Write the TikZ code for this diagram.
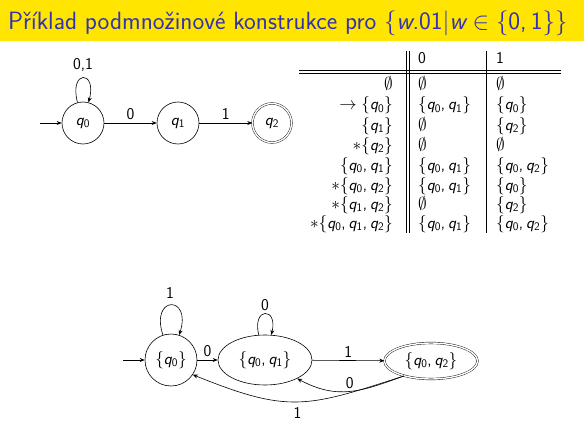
\documentclass[tikz,border=0pt]{standalone}
\usetikzlibrary{arrows.meta,shapes.geometric}
\DeclareSymbolFont{sfop}{TU}{lmss}{m}{n}
\DeclareSymbolFont{sfit}{TU}{lmss}{m}{it}
\DeclareMathSymbol{q}{\mathalpha}{sfit}{`q}
\DeclareMathSymbol{w}{\mathalpha}{sfit}{`w}
\DeclareMathSymbol{0}{\mathalpha}{sfop}{`0}
\DeclareMathSymbol{1}{\mathalpha}{sfop}{`1}
\DeclareMathSymbol{2}{\mathalpha}{sfop}{`2}
\DeclareMathSymbol{.}{\mathord}{sfop}{`.}
\DeclareMathSymbol{,}{\mathpunct}{sfop}{`,}
\definecolor{titlebar}{RGB}{255,229,0}
\definecolor{titletext}{RGB}{51,51,179}
\begin{document}
\begin{tikzpicture}[x=1pt,y=1pt,
  >={Stealth[length=5pt,width=4pt]},
  every node/.style={font=\sffamily\fontsize{16.5}{19}\selectfont},
  state/.style={circle,draw,semithick,minimum size=42pt,inner sep=0pt},
  acc/.style={double,double distance=1.4pt,thin},
  ell/.style={ellipse,draw,semithick,inner sep=0pt},
  cell/.style={inner sep=0pt,anchor=base west},
  rcell/.style={inner sep=0pt,anchor=base east},
  edge/.style={->,semithick}]
\useasboundingbox (0,0) rectangle (584,-428);
% title bar
\fill[titlebar] (0,0) rectangle (584,-41);
\node[anchor=base west,inner sep=0pt,text=titletext,font=\sffamily\fontsize{25}{29}\selectfont] (title) at (8,-30)
  {Příklad podmnožinové konstrukce pro $\{w.01|w\in\{0,1\}\}$};
% top automaton
\node[state] (q0) at (83,-123) {$q_0$};
\node[state] (q1) at (178,-123) {$q_1$};
\node[state,acc,minimum size=39pt] (q2) at (272,-123) {$q_2$};
\coordinate (s0) at (40,-123);
\draw[edge] (s0) -- (q0);
\draw[edge] (q0) -- node[above,inner sep=3pt] {0} (q1);
\draw[edge] (q1) -- node[above,inner sep=3pt] {1} (q2);
\draw[edge] (q0.105) .. controls +(105:34) and +(75:34) .. (q0.75);
\node (l01) at (83,-65) {0,1};
% table lines
\coordinate (vt1) at (406,-51); \coordinate (vb1) at (406,-233);
\coordinate (vt2) at (409,-51); \coordinate (vb2) at (409,-233);
\coordinate (vt3) at (486,-51); \coordinate (vb3) at (486,-233);
\coordinate (hl1) at (299,-70); \coordinate (hr1) at (561,-70);
\coordinate (hl2) at (299,-73); \coordinate (hr2) at (561,-73);
\draw[line width=0.5pt] (vt1) -- (vb1) (vt2) -- (vb2) (vt3) -- (vb3) (hl1) -- (hr1) (hl2) -- (hr2);
% table header
\node[cell] (h0) at (418,-64) {0};
\node[cell] (h1) at (496,-64) {1};
% rows
\node[rcell] (r1) at (393,-89) {$\emptyset$};
\node[cell] (r1a) at (418,-89) {$\emptyset$};
\node[cell] (r1b) at (496,-89) {$\emptyset$};
\node[rcell] (r2) at (393,-110) {$\rightarrow\{q_0\}$};
\node[cell] (r2a) at (418,-110) {$\{q_0,q_1\}$};
\node[cell] (r2b) at (496,-110) {$\{q_0\}$};
\node[rcell] (r3) at (393,-130) {$\{q_1\}$};
\node[cell] (r3a) at (418,-130) {$\emptyset$};
\node[cell] (r3b) at (496,-130) {$\{q_2\}$};
\node[rcell] (r4) at (393,-150) {$*\{q_2\}$};
\node[cell] (r4a) at (418,-150) {$\emptyset$};
\node[cell] (r4b) at (496,-150) {$\emptyset$};
\node[rcell] (r5) at (393,-170) {$\{q_0,q_1\}$};
\node[cell] (r5a) at (418,-170) {$\{q_0,q_1\}$};
\node[cell] (r5b) at (496,-170) {$\{q_0,q_2\}$};
\node[rcell] (r6) at (393,-190) {$*\{q_0,q_2\}$};
\node[cell] (r6a) at (418,-190) {$\{q_0,q_1\}$};
\node[cell] (r6b) at (496,-190) {$\{q_0\}$};
\node[rcell] (r7) at (393,-209) {$*\{q_1,q_2\}$};
\node[cell] (r7a) at (418,-209) {$\emptyset$};
\node[cell] (r7b) at (496,-209) {$\{q_2\}$};
\node[rcell] (r8) at (393,-228) {$*\{q_0,q_1,q_2\}$};
\node[cell] (r8a) at (418,-228) {$\{q_0,q_1\}$};
\node[cell] (r8b) at (496,-228) {$\{q_0,q_2\}$};
% bottom automaton
\node[state,minimum size=52pt] (A) at (171,-360) {$\{q_0\}$};
\node[ell,minimum width=94pt,minimum height=50pt] (B) at (265,-360) {$\{q_0,q_1\}$};
\node[ell,acc,minimum width=93pt,minimum height=36pt] (C) at (431,-361) {$\{q_0,q_2\}$};
\coordinate (s1) at (123,-360);
\draw[edge] (s1) -- (A);
\draw[edge] (A) -- node[above,inner sep=3pt] {0} (B);
\draw[edge] (B) -- node[above,inner sep=3pt] {1} (C);
\draw[edge] (A.108) .. controls +(108:42) and +(72:42) .. (A.72);
\node (la) at (170,-293) {1};
\draw[edge] (B.104) .. controls +(104:29) and +(76:29) .. (B.76);
\node (lb) at (265,-305) {0};
\draw[edge] (C.209) to[out=200,in=-28,looseness=1.1] node[above,inner sep=2pt] {0} (B.-30);
\draw[edge] (C.209) to[out=198,in=-22,looseness=1.25] node[below,inner sep=5pt] {1} (A.-34);
\end{tikzpicture}
\end{document}
